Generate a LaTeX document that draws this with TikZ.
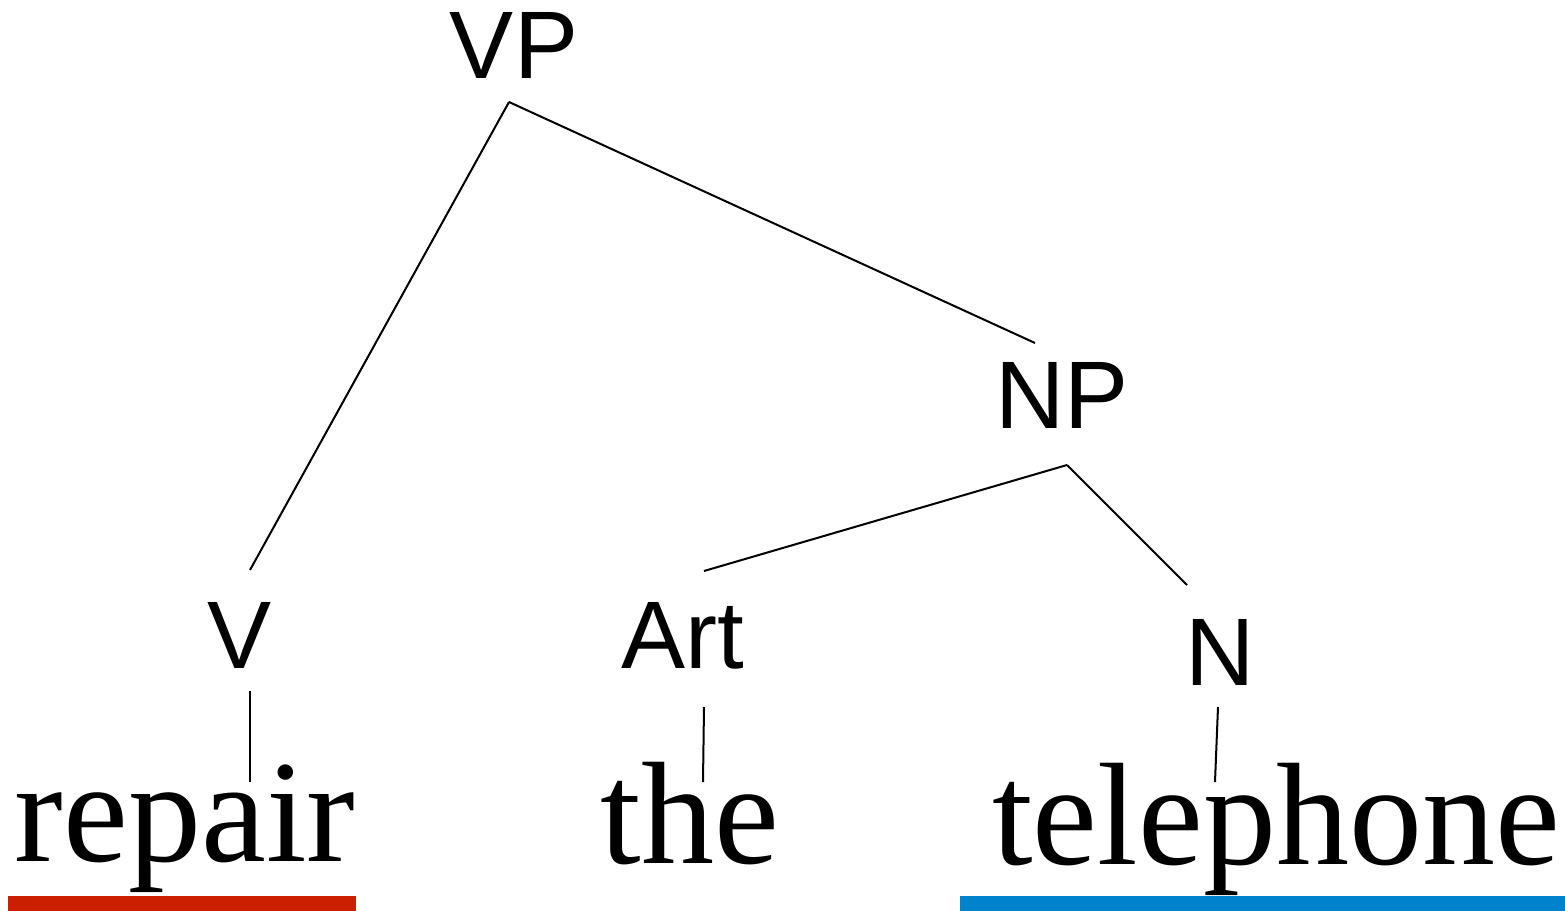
\documentclass[tikz,border=0pt]{standalone}
\usepackage{fontspec}
\setmainfont{Liberation Serif}
\newfontfamily\labfont{Liberation Sans}
\definecolor{barred}{HTML}{CC1E00}
\definecolor{barblue}{HTML}{0082CC}
\begin{document}
\begin{tikzpicture}[x=0.5pt,y=-0.5pt,
  cat/.style={inner sep=0pt,anchor=base,font=\labfont\fontsize{48}{52}\selectfont},
  word/.style={inner sep=0pt,anchor=base,font=\fontsize{73}{80}\selectfont},
  branch/.style={draw=black,line width=1pt}]
\useasboundingbox (0,0) rectangle (1565,911);
% category labels
\node[cat] (VP) at (514,78) {VP};
\node[cat] (NP) at (1062,428) {NP};
\node[cat] (V) at (240,668) {V};
\node[cat] (Art) at (683,668) {Art};
\node[cat] (N) at (1220,685) {N};
% words
\node[word] (w1) at (185,861) {repair};
\node[word] (w2) at (690,863) {the};
\node[word] (w3) at (1276,864) {telephone};
% connector ends
\coordinate (VPb) at (509,102);
\coordinate (Vt) at (250,570);
\coordinate (NPt) at (1035,343);
\coordinate (NPb) at (1067,465);
\coordinate (Artt) at (704,571);
\coordinate (Nt) at (1187,585);
\coordinate (Vb) at (250,691);
\coordinate (w1t) at (250,782);
\coordinate (Artb) at (704,707);
\coordinate (w2t) at (703,782);
\coordinate (Nb) at (1218,707);
\coordinate (w3t) at (1215,782);
\draw[branch] (VPb) -- (Vt);
\draw[branch] (VPb) -- (NPt);
\draw[branch] (NPb) -- (Artt);
\draw[branch] (NPb) -- (Nt);
\draw[branch] (Vb) -- (w1t);
\draw[branch] (Artb) -- (w2t);
\draw[branch] (Nb) -- (w3t);
% underline bars
\fill[barred] (8,896) rectangle (356,911);
\fill[barblue] (960,896) rectangle (1565,911);
\end{tikzpicture}
\end{document}
